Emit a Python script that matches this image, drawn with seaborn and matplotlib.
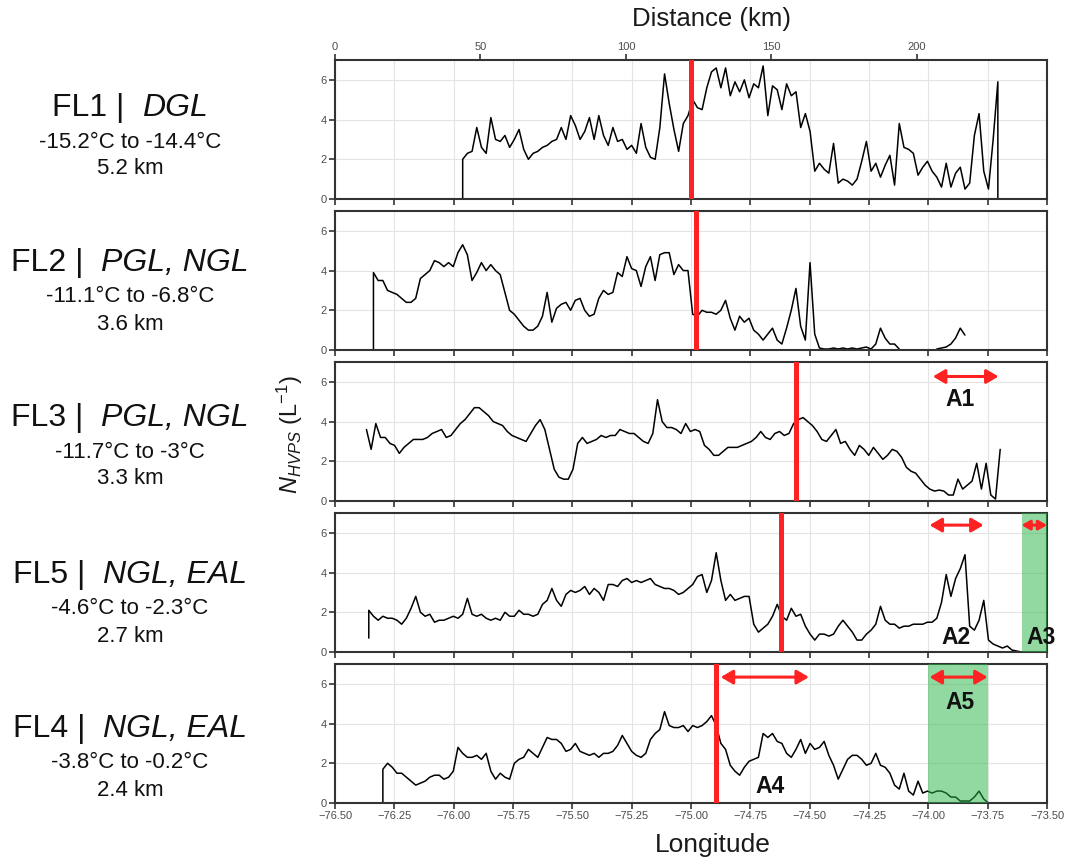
import numpy as np
import pandas as pd
import matplotlib
matplotlib.use("Agg")
import matplotlib.pyplot as plt
from matplotlib.ticker import FuncFormatter
import seaborn as sns

# ---------------- data ----------------
panel_names = ["FL1", "FL2", "FL3", "FL5", "FL4"]
panel_types = ["DGL", "PGL, NGL", "PGL, NGL", "NGL, EAL", "NGL, EAL"]
panel_temps = ["-15.2°C to -14.4°C", "-11.1°C to -6.8°C", "-11.7°C to -3°C",
               "-4.6°C to -2.3°C", "-3.8°C to -0.2°C"]
panel_alts = ["5.2 km", "3.6 km", "3.3 km", "2.7 km", "2.4 km"]

lon_step = 0.01978
fl1_lon0 = -75.962
fl1_n = [2.0, 2.3, 2.4, 3.6, 2.6, 2.3, 4.1, 3.0, 2.9, 3.2,
         2.6, 3.0, 3.5, 2.5, 2.0, 2.3, 2.4, 2.6, 2.7, 2.9,
         3.0, 3.6, 3.0, 4.2, 3.7, 3.0, 3.4, 4.1, 3.0, 4.2,
         3.2, 2.7, 3.6, 2.9, 3.0, 2.5, 2.7, 2.3, 3.8, 2.6,
         2.1, 2.0, 3.6, 6.3, 4.8, 3.5, 2.4, 3.8, 4.2, 5.0,
         4.6, 4.5, 5.6, 6.4, 6.6, 5.6, 6.6, 5.2, 5.9, 5.4,
         6.0, 5.1, 5.8, 5.6, 6.7, 4.2, 5.7, 5.5, 4.5, 5.8,
         5.2, 5.4, 3.6, 4.3, 3.4, 1.4, 1.8, 1.5, 1.3, 2.8,
         0.8, 1.0, 0.9, 0.7, 1.0, 1.9, 2.9, 1.4, 1.8, 1.1,
         1.7, 2.2, 0.7, 3.8, 2.6, 2.5, 2.3, 1.2, 1.6, 1.9,
         1.4, 1.1, 0.6, 1.8, 0.6, 1.3, 1.6, 0.5, 0.8, 3.2,
         4.3, 1.4, 0.5, 3.0, 5.9]

fl2_lon0 = -76.338
fl2_n = [3.9, 3.5, 3.5, 3.0, 2.9, 2.8, 2.6, 2.4, 2.4, 2.6,
         3.6, 3.8, 4.0, 4.5, 4.4, 4.2, 4.4, 4.2, 4.9, 5.3,
         4.8, 3.5, 3.9, 4.4, 4.0, 4.3, 4.0, 3.8, 2.9, 2.0,
         1.8, 1.5, 1.2, 1.0, 1.0, 1.2, 1.7, 2.9, 1.4, 2.1,
         2.3, 2.4, 2.0, 2.5, 2.6, 2.0, 1.7, 1.8, 2.6, 3.0,
         2.8, 2.9, 3.9, 3.7, 4.7, 4.1, 4.0, 3.2, 4.2, 4.7,
         3.5, 4.8, 4.9, 4.9, 3.8, 4.3, 4.0, 4.0, 1.8, 1.7,
         2.0, 1.9, 1.9, 1.8, 2.0, 2.5, 1.6, 1.0, 1.7, 1.4,
         1.6, 1.0, 0.8, 0.5, 0.8, 1.1, 0.5, 0.3, 1.1, 2.0,
         3.1, 1.2, 0.5, 4.4, 0.8, 0.1, 0.05, 0.05, 0.1, 0.05,
         0.1, 0.05, 0.1, 0.05, 0.1, 0.15, 0.05, 0.3, 1.1, 0.6,
         0.3, 0.3, 0.05, np.nan, np.nan, np.nan, np.nan, np.nan, np.nan, np.nan,
         0.05, 0.1, 0.15, 0.3, 0.6, 1.1, 0.75]

fl3_lon0 = -76.3675
fl3_n = [3.6, 2.6, 3.9, 3.2, 3.2, 2.9, 2.8, 2.4, 2.7, 2.9,
         3.1, 3.1, 3.1, 3.2, 3.4, 3.5, 3.6, 3.2, 3.3, 3.6,
         3.9, 4.1, 4.4, 4.7, 4.7, 4.5, 4.3, 4.0, 3.9, 3.8,
         3.5, 3.3, 3.2, 3.1, 3.0, 3.4, 3.8, 4.1, 3.6, 2.6,
         1.6, 1.2, 1.1, 1.1, 1.6, 2.9, 3.2, 2.9, 3.0, 3.1,
         3.3, 3.2, 3.3, 3.3, 3.6, 3.5, 3.4, 3.4, 3.2, 3.0,
         2.9, 3.4, 5.1, 4.0, 3.7, 3.7, 3.6, 3.4, 3.9, 3.5,
         3.6, 3.5, 2.8, 2.6, 2.3, 2.3, 2.5, 2.7, 2.7, 2.7,
         2.8, 2.9, 3.0, 3.2, 3.5, 3.2, 3.1, 3.4, 3.5, 3.3,
         3.4, 3.9, 4.1, 4.2, 4.0, 3.8, 3.5, 3.1, 3.0, 3.3,
         3.6, 2.9, 3.0, 2.6, 2.3, 2.8, 2.6, 2.3, 2.7, 2.4,
         2.1, 2.3, 2.6, 2.5, 2.2, 1.7, 1.5, 1.4, 1.1, 0.8,
         0.6, 0.5, 0.55, 0.5, 0.3, 0.3, 1.1, 0.6, 0.8, 1.0,
         1.9, 0.6, 1.9, 0.3, 0.1, 2.6]

fl5_lon0 = -76.3576
fl5_n = [2.1, 1.8, 1.6, 1.8, 1.7, 1.7, 1.6, 1.4, 1.7, 2.2,
         2.8, 2.0, 1.8, 1.9, 1.5, 1.6, 1.6, 1.7, 1.8, 1.7,
         1.9, 2.7, 1.9, 1.8, 1.9, 1.7, 1.6, 1.7, 1.6, 2.0,
         1.8, 1.8, 2.1, 1.9, 1.9, 1.8, 1.9, 2.4, 2.6, 3.2,
         2.6, 2.3, 2.9, 3.1, 3.0, 3.1, 3.3, 2.9, 3.2, 3.0,
         2.6, 3.4, 3.4, 3.3, 3.6, 3.7, 3.5, 3.6, 3.5, 3.6,
         3.7, 3.4, 3.3, 3.2, 3.2, 3.1, 2.9, 3.0, 3.2, 3.4,
         3.8, 3.9, 3.0, 3.6, 5.0, 3.6, 2.6, 2.9, 2.6, 2.7,
         2.8, 2.8, 1.4, 1.0, 1.2, 1.4, 1.8, 2.4, 1.8, 1.6,
         2.2, 1.8, 1.9, 1.3, 0.9, 0.6, 0.9, 0.9, 0.8, 0.9,
         1.3, 1.6, 1.3, 1.0, 0.6, 0.6, 0.9, 1.1, 1.4, 2.3,
         1.6, 1.4, 1.4, 1.2, 1.3, 1.3, 1.4, 1.4, 1.4, 1.5,
         1.5, 1.7, 2.5, 3.9, 2.8, 3.7, 4.2, 4.9, 1.3, 1.1,
         1.6, 2.6, 0.6, 0.4, 0.3, 0.2, 0.3, 0.1, 0.05, 0.0]

fl4_lon0 = -76.2983
fl4_n = [1.7, 2.0, 1.8, 1.5, 1.5, 1.3, 1.1, 0.9, 1.0, 1.1,
         1.3, 1.4, 1.4, 1.2, 1.3, 1.6, 2.8, 2.5, 2.3, 2.3,
         2.4, 2.2, 2.5, 1.6, 1.2, 1.5, 1.3, 1.2, 2.0, 2.2,
         2.3, 2.7, 2.5, 2.3, 2.8, 3.3, 3.2, 3.2, 3.0, 2.6,
         2.7, 3.0, 2.6, 2.5, 2.4, 2.5, 2.3, 2.5, 2.5, 2.6,
         2.9, 3.4, 3.0, 2.6, 2.4, 2.3, 2.5, 3.2, 3.5, 3.7,
         4.6, 3.9, 3.8, 3.8, 3.9, 3.6, 3.9, 3.8, 3.9, 4.1,
         4.4, 3.9, 3.0, 2.7, 1.9, 1.6, 1.4, 1.8, 2.1, 2.2,
         2.3, 3.5, 3.3, 3.5, 3.1, 3.0, 2.5, 2.3, 2.7, 3.2,
         2.5, 3.0, 2.7, 2.8, 3.1, 2.4, 1.9, 1.2, 1.7, 2.2,
         2.4, 2.4, 2.2, 1.9, 2.0, 2.5, 1.9, 1.8, 1.5, 0.9,
         0.7, 1.5, 0.6, 0.4, 1.1, 0.5, 0.6, 0.5, 0.6, 0.6,
         0.5, 0.3, 0.3, 0.1, 0.1, 0.1, 0.3, 0.6, 0.2, 0.0]

series_lon0 = [fl1_lon0, fl2_lon0, fl3_lon0, fl5_lon0, fl4_lon0]
series_n = [fl1_n, fl2_n, fl3_n, fl5_n, fl4_n]
start_base = [0.0, 0.0, None, 0.7, 0.0]
end_base = [0.0, None, None, None, None]

red_lines = [-75.0, -74.977, -74.558, -74.621, -74.894]

# arrows: (panel, lon_from, lon_to, y)
arrow_panel = [2, 3, 3, 4, 4]
arrow_x0 = [-73.981, -73.995, -73.607, -74.875, -73.995]
arrow_x1 = [-73.704, -73.767, -73.50, -74.503, -73.750]
arrow_y = [6.27, 6.39, 6.39, 6.34, 6.34]
arrow_scale = [12, 12, 8, 12, 12]

label_panel = [2, 3, 3, 4, 4]
label_text = ["A1", "A2", "A3", "A4", "A5"]
label_x = [-73.866, -73.885, -73.525, -74.667, -73.866]
label_y = [5.1, 0.72, 0.72, 0.83, 5.05]

green_panel = [3, 4]
green_x0 = [-73.607, -74.0]
green_x1 = [-73.5, -73.75]

dist_ticks = [0, 50, 100, 150, 200]
km_per_deg = 81.6

# ---------------- style ----------------
sns.set_theme(style="whitegrid")
plt.rcParams["font.family"] = ["Liberation Sans", "DejaVu Sans"]
plt.rcParams["mathtext.fontset"] = "custom"
plt.rcParams["mathtext.rm"] = "Liberation Sans"
plt.rcParams["mathtext.it"] = "Liberation Sans:italic"
plt.rcParams["mathtext.bf"] = "Liberation Sans:bold"
plt.rcParams["axes.unicode_minus"] = True

W, H = 1066, 861
fig = plt.figure(figsize=(W / 100, H / 100), dpi=100)
fig.patch.set_facecolor("white")

left_px, right_px = 335, 1047
tops = [60, 211, 362, 513, 664]
ph = 139
RED = "#ff2222"
GREEN = "#25b545"

axes = []
for i, t in enumerate(tops):
    ax = fig.add_axes([left_px / W, 1 - (t + ph) / H, (right_px - left_px) / W, ph / H])
    axes.append(ax)
    vals = np.array(series_n[i], dtype=float)
    lon = series_lon0[i] + lon_step * np.arange(len(vals))
    seg = np.cumsum(np.isnan(vals))
    df = pd.DataFrame({"lon": lon, "n": vals, "seg": seg}).dropna()
    parts = [df]
    if start_base[i] is not None:
        parts.insert(0, pd.DataFrame({"lon": [lon[0]], "n": [start_base[i]], "seg": [0]}))
    if end_base[i] is not None:
        parts.append(pd.DataFrame({"lon": [lon[-1]], "n": [end_base[i]], "seg": [df["seg"].iloc[-1]]}))
    df = pd.concat(parts, ignore_index=True)
    sns.lineplot(data=df, x="lon", y="n", units="seg", estimator=None, sort=False,
                 color="black", lw=1.1, ax=ax, legend=False, zorder=2)

    ax.axvline(red_lines[i], color=RED, lw=3.6, zorder=4)

    ax.set_xlim(-76.5, -73.5)
    ax.set_ylim(0, 7)
    ax.set_xticks(np.arange(-76.5, -73.49, 0.25))
    ax.set_yticks([0, 2, 4, 6])
    ax.set_xlabel("")
    ax.set_ylabel("")
    ax.grid(True, color="#e4e4e4", lw=0.8)
    ax.set_facecolor("white")
    for s in ax.spines.values():
        s.set_color("#333333")
        s.set_linewidth(1.5)
    ax.tick_params(axis="both", which="major", direction="out", length=4, width=1.2,
                   color="#333333", labelsize=8, labelcolor="#4d4d4d", pad=2,
                   bottom=True, left=True)
    if i < 4:
        ax.tick_params(labelbottom=False)
    else:
        ax.xaxis.set_major_formatter(FuncFormatter(lambda v, p: f"{v:.2f}".replace("-", "\u2212")))

for k in range(len(green_panel)):
    axes[green_panel[k]].axvspan(green_x0[k], green_x1[k], color=GREEN, alpha=0.5, lw=0, zorder=3)

for k in range(len(arrow_panel)):
    axes[arrow_panel[k]].annotate("", xy=(arrow_x1[k], arrow_y[k]), xytext=(arrow_x0[k], arrow_y[k]),
                                  arrowprops=dict(arrowstyle="<|-|>,head_length=0.6,head_width=0.35",
                                                  color=RED, lw=2.2, mutation_scale=arrow_scale[k],
                                                  shrinkA=0, shrinkB=0), zorder=5)

for k in range(len(label_panel)):
    axes[label_panel[k]].text(label_x[k], label_y[k], label_text[k], fontsize=16.5,
                              fontweight="bold", color="#111111", ha="center", va="center",
                              zorder=6, clip_on=False)

# top distance axis
sec = axes[0].secondary_xaxis("top", functions=(lambda x: (x + 76.5) * km_per_deg,
                                                 lambda d: d / km_per_deg - 76.5))
sec.set_xticks(dist_ticks)
sec.tick_params(direction="out", length=4, width=1.2, color="#333333", labelsize=8,
                labelcolor="#4d4d4d", pad=2)
sec.spines["top"].set_visible(False)

# figure texts
fig.text(712 / W, 1 - 19 / H, "Distance (km)", fontsize=18.5, ha="center", va="center", color="#1a1a1a")
fig.text(713 / W, 1 - 845 / H, "Longitude", fontsize=19, ha="center", va="center", color="#1a1a1a")
fig.text(290 / W, 1 - 435 / H, r"$N_{HVPS}$ (L$^{-1}$)", fontsize=17, rotation=90,
         ha="center", va="center", color="#1a1a1a")

renderer = fig.canvas.get_renderer()
line1_y = [108, 263, 418, 575, 729]
for i in range(5):
    y1 = 1 - line1_y[i] / H
    t1 = fig.text(0, y1, panel_names[i] + " |  ", fontsize=23, ha="left", va="center",
                  color="#111111")
    t2 = fig.text(0, y1, panel_types[i], fontsize=23, style="italic", ha="left", va="center",
                  color="#111111")
    w1 = t1.get_window_extent(renderer).width
    w2 = t2.get_window_extent(renderer).width
    x0 = 130 - (w1 + w2) / 2
    t1.set_x(x0 / W)
    t2.set_x((x0 + w1) / W)
    fig.text(130 / W, 1 - (line1_y[i] + 34) / H, panel_temps[i], fontsize=16, ha="center",
             va="center", color="#111111")
    fig.text(130 / W, 1 - (line1_y[i] + 61) / H, panel_alts[i], fontsize=16, ha="center",
             va="center", color="#111111")

fig.savefig("out.png", dpi=100, facecolor="white")
